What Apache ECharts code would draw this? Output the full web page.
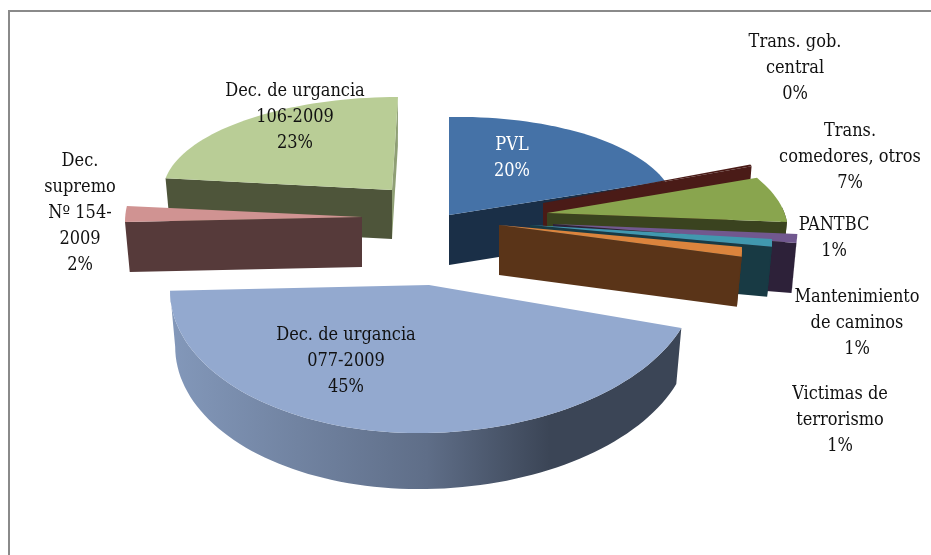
<!DOCTYPE html>
<html><head><meta charset="utf-8">
<style>html,body{margin:0;padding:0;background:#fff}#c{width:931px;height:555px}</style>
<script src="https://cdn.jsdelivr.net/npm/echarts@6/dist/echarts.min.js"></script>
</head><body><div id="c"></div>
<script>
// Data
const categories = ['PVL','Trans. gob.\ncentral','Trans.\ncomedores, otros','PANTBC','Mantenimiento\nde caminos','Victimas de\nterrorismo','Dec. de urgancia\n077-2009','Dec.\nsupremo\nNº 154-\n2009','Dec. de urgancia\n106-2009'];
const values = [20,0.3,7,1,1,1,44.7,2,23];
const topColors = ['#4572a7','#4a1b17','#89a54e','#71588f','#4198af','#db843d','#93a9cf','#d09392','#b9cd96'];
const sideColors = ['#1a2f47','#4a1b17','#3a431f','#2d2139','#183a44','#5a3418','#3b4556','#563a3a','#4e553a'];
// Layout of the exploded, tilted pie: apex, radii, skews and depth of each slice
const apexX = [449,543,547,553,530,499,429,362,392];
const apexY = [215,203,213,224,225,225,285,217,190];
const radX  = [227,218,235,243,235,233,267,237,229];
const radXL = [227,218,235,243,235,233,259,237,229];
const radY  = [98,100,102,145,125,156,148,128,93];
const skewX = [0,0,51,27,58,69,0,0,-6];
const skewY = [-4,-8,-5.7,-11,-12,-20.4,-5.7,-5,0];
const depth = [50,50,50,50,50,50,56,50,49];
const drawOrder = [0,1,2,3,4,5,6,8,7];
const labelX = [512,795,850,834,857,840,346,80,295];
const labelY = [158,68,157,238,323,420,361,213,117];
const labelColor = ['#ffffff','#111','#111','#111','#111','#111','#111','#111','#111'];
const shrink = 0.98;
const endFaceColor = {8:'#8f9f75'};

const total = values.reduce((a,b)=>a+b,0);
const starts = []; { let c=0; values.forEach(v=>{starts.push(c/total*360); c+=v;}); }

function pt(i, deg, low){
  const t = deg*Math.PI/180, s=Math.sin(t), co=Math.cos(t);
  const rx = s<0 ? radXL[i] : radX[i];
  const f = low ? shrink : 1;
  return [apexX[i] + (rx*s - skewX[i]*co)*f, apexY[i] - radY[i]*co + skewY[i]*s + (low?depth[i]:0)];
}
function arc(i,a,b,low){
  const n = Math.max(2,Math.ceil(Math.abs(b-a)/2)), out=[];
  for(let k=0;k<=n;k++) out.push(pt(i,a+(b-a)*k/n,low));
  return out;
}
function poly(points,fill,z2){ return {type:'polygon',z2,shape:{points},style:{fill,stroke:null}}; }

function renderItem(params, api){
  const i = params.dataIndex, v = api.value(0);
  const a = starts[i], b = a + v/total*360;
  const z = drawOrder[i]*10;
  const apex=[apexX[i],apexY[i]], apexLow=[apexX[i]*1,apexY[i]+depth[i]];
  const kids=[];
  // cut faces
  if(a>180){
    const p=pt(i,a),q=pt(i,a,true);
    kids.push(poly([apex,p,q,apexLow],sideColors[i],z));
  }
  if(b<180 || endFaceColor[i]){
    const p=pt(i,b),q=pt(i,b,true);
    kids.push(poly([apex,p,q,apexLow],endFaceColor[i]||sideColors[i],z));
  }
  // outer rim
  const ra=Math.max(a,90), rb=Math.min(b,270);
  if(rb>ra){
    const pts=arc(i,ra,rb).concat(arc(i,rb,ra,true));
    const fill = i===6 ? {type:'linear',x:170,y:0,x2:683,y2:0,global:true,colorStops:[
      {offset:0,color:'#8398ba'},{offset:0.5,color:'#5f6e88'},{offset:0.74,color:'#3b4556'},{offset:1,color:'#3b4556'}]} : sideColors[i];
    kids.push(poly(pts,fill,z+1));
  }
  // top face
  kids.push(poly([apex].concat(arc(i,a,b)),topColors[i],z+2));
  // label
  kids.push({type:'text',z2:500,style:{
    text:categories[i]+'\n'+Math.round(v)+'%',x:labelX[i],y:labelY[i],align:'center',verticalAlign:'middle',
    fill:labelColor[i],font:'18px "DejaVu Serif Condensed", "DejaVu Serif", serif',lineHeight:26}});
  return {type:'group',children:kids};
}

const chart = echarts.init(document.getElementById('c'),null,{renderer:'canvas'});
chart.setOption({
  animation:false,
  backgroundColor:'#fff',
  graphic:[
    {type:'line',shape:{x1:9,y1:10,x2:9,y2:555},style:{stroke:'#8a8a8a',lineWidth:2}},
    {type:'line',shape:{x1:8,y1:11,x2:931,y2:11},style:{stroke:'#8a8a8a',lineWidth:2}}
  ],
  series:[{type:'custom',coordinateSystem:'none',renderItem,clip:false,silent:true,
    data:values.map(v=>[v])}]
});
</script></body></html>
